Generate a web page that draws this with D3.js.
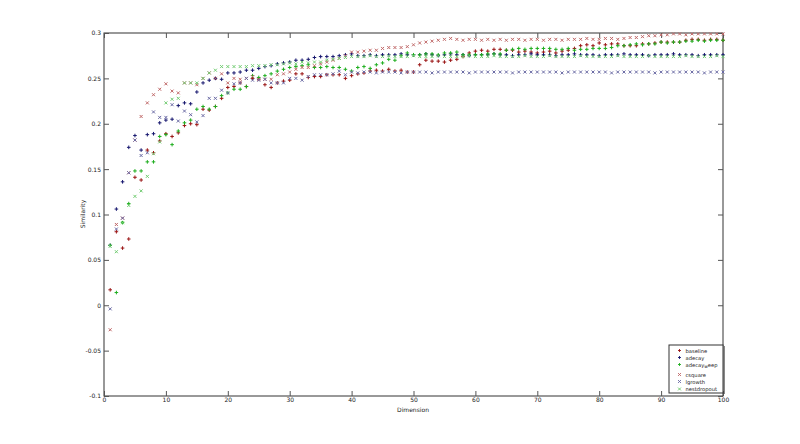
<!DOCTYPE html>
<html><head><meta charset="utf-8">
<script src="https://cdn.jsdelivr.net/npm/d3@7"></script>
<style>
html,body{margin:0;padding:0;background:#fff;}
svg{display:block;}
text{font-family:"DejaVu Sans",sans-serif;fill:#222;}
</style></head>
<body>
<svg id="chart" width="800" height="444"></svg>
<script>
const xTicks = [0,10,20,30,40,50,60,70,80,90,100];
const yTicks = [-0.1,-0.05,0,0.05,0.1,0.15,0.2,0.25,0.3];
const yTickLabels = ["-0.1","-0.05","0","0.05","0.1","0.15","0.2","0.25","0.3"];
const seriesNames = ["baseline","adecay","adecay_weep","csquare","lgrowth","nestdropout"];
const dims = d3.range(1, 101);

const baseline = [
 0.017,0.081,0.063,0.073,0.141,0.138,0.171,0.168,0.181,0.189,
 0.186,0.190,0.198,0.200,0.199,0.216,0.215,0.219,0.228,0.240,
 0.241,0.245,0.241,0.250,0.249,0.243,0.240,0.245,0.247,0.248,
 0.255,0.255,0.251,0.252,0.252,0.254,0.254,0.254,0.250,0.253,
 0.255,0.256,0.258,0.259,0.258,0.260,0.258,0.259,0.257,0.257,
 0.265,0.270,0.269,0.269,0.268,0.270,0.271,0.274,0.278,0.280,
 0.281,0.280,0.282,0.282,0.281,0.281,0.279,0.280,0.279,0.278,
 0.279,0.280,0.278,0.280,0.281,0.283,0.286,0.287,0.286,0.289,
 0.287,0.288,0.288,0.286,0.286,0.286,0.288,0.288,0.289,0.290,
 0.290,0.290,0.290,0.292,0.293,0.293,0.292,0.293,0.293,0.292];
const adecay = [
 0.066,0.106,0.136,0.174,0.187,0.171,0.188,0.189,0.201,0.204,
 0.205,0.220,0.223,0.222,0.235,0.245,0.248,0.250,0.249,0.256,
 0.256,0.257,0.259,0.259,0.261,0.263,0.264,0.266,0.267,0.268,
 0.270,0.270,0.271,0.273,0.274,0.274,0.274,0.275,0.276,0.277,
 0.275,0.275,0.276,0.275,0.276,0.276,0.276,0.277,0.276,0.276,
 0.276,0.277,0.276,0.275,0.276,0.277,0.276,0.276,0.275,0.276,
 0.276,0.276,0.277,0.276,0.276,0.275,0.276,0.276,0.277,0.276,
 0.276,0.276,0.275,0.276,0.276,0.277,0.276,0.276,0.276,0.275,
 0.276,0.276,0.276,0.277,0.276,0.276,0.276,0.275,0.276,0.276,
 0.276,0.277,0.276,0.276,0.276,0.275,0.276,0.276,0.276,0.276];
const adecayWeep = [
 0.066,0.014,0.091,0.112,0.148,0.148,0.158,0.158,0.186,0.188,
 0.177,0.192,0.201,0.204,0.216,0.219,0.216,0.219,0.231,0.234,
 0.238,0.238,0.241,0.253,0.251,0.253,0.255,0.258,0.260,0.262,
 0.263,0.264,0.265,0.262,0.262,0.263,0.262,0.262,0.260,0.258,
 0.262,0.263,0.261,0.265,0.267,0.271,0.270,0.275,0.278,0.276,
 0.276,0.277,0.277,0.276,0.278,0.278,0.279,0.276,0.276,0.276,
 0.276,0.277,0.277,0.277,0.281,0.282,0.283,0.282,0.283,0.283,
 0.283,0.283,0.282,0.282,0.283,0.281,0.282,0.282,0.283,0.283,
 0.283,0.284,0.286,0.286,0.287,0.288,0.287,0.288,0.288,0.290,
 0.289,0.290,0.290,0.291,0.291,0.292,0.291,0.292,0.292,0.292];
const csquare = [
 -0.027,0.089,0.096,0.146,0.182,0.208,0.223,0.232,0.238,0.244,
 0.236,0.234,0.245,0.245,0.243,0.250,0.256,0.250,0.255,0.245,
 0.250,0.249,0.250,0.252,0.249,0.249,0.249,0.254,0.255,0.257,
 0.260,0.262,0.262,0.264,0.266,0.268,0.270,0.272,0.275,0.279,
 0.279,0.280,0.281,0.281,0.283,0.284,0.284,0.284,0.285,0.287,
 0.289,0.290,0.291,0.292,0.293,0.294,0.293,0.292,0.293,0.293,
 0.292,0.293,0.292,0.293,0.292,0.293,0.293,0.292,0.293,0.293,
 0.292,0.293,0.293,0.292,0.293,0.293,0.293,0.294,0.293,0.293,
 0.294,0.294,0.293,0.294,0.295,0.295,0.296,0.297,0.297,0.298,
 0.298,0.299,0.299,0.298,0.299,0.299,0.299,0.299,0.299,0.299];
const lgrowth = [
 -0.004,0.084,0.096,0.146,0.182,0.165,0.168,0.213,0.207,0.207,
 0.221,0.203,0.214,0.210,0.202,0.209,0.228,0.228,0.237,0.234,
 0.244,0.245,0.250,0.248,0.248,0.249,0.245,0.245,0.245,0.250,
 0.250,0.248,0.252,0.254,0.254,0.254,0.255,0.258,0.254,0.257,
 0.256,0.257,0.257,0.256,0.257,0.257,0.257,0.256,0.257,0.257,
 0.257,0.257,0.256,0.257,0.257,0.257,0.257,0.257,0.256,0.257,
 0.257,0.257,0.257,0.257,0.257,0.256,0.257,0.257,0.257,0.257,
 0.257,0.257,0.257,0.256,0.257,0.257,0.257,0.257,0.257,0.257,
 0.257,0.256,0.257,0.257,0.257,0.257,0.257,0.257,0.256,0.257,
 0.257,0.257,0.257,0.257,0.257,0.257,0.256,0.257,0.257,0.257];
const nestdropout = [
 0.065,0.059,0.091,0.110,0.120,0.126,0.142,0.167,0.180,0.223,
 0.227,0.228,0.245,0.245,0.245,0.250,0.256,0.259,0.263,0.263,
 0.263,0.263,0.263,0.264,0.264,0.264,0.265,0.265,0.266,0.267,
 0.266,0.268,0.267,0.268,0.268,0.270,0.271,0.272,0.273,0.274,
 0.274,0.274,0.275,0.274,0.274,0.275,0.274,0.274,0.274,0.275,
 0.274,0.274,0.274,0.275,0.274,0.274,0.274,0.274,0.275,0.274,
 0.274,0.274,0.275,0.274,0.274,0.274,0.274,0.275,0.274,0.274,
 0.274,0.275,0.274,0.274,0.274,0.274,0.275,0.274,0.274,0.274,
 0.274,0.274,0.275,0.274,0.274,0.274,0.274,0.275,0.274,0.274,
 0.274,0.274,0.274,0.275,0.274,0.274,0.274,0.274,0.275,0.274];

const seriesValues = [baseline, adecay, adecayWeep, csquare, lgrowth, nestdropout];
const seriesColors = ["#9a1414","#16166e","#1fae1f","#c06868","#6a6aa4","#72cc72"];
const seriesMarkers = ["+","+","+","x","x","x"];

const svg = d3.select("#chart");
const x = d3.scaleLinear().domain([0,100]).range([104,723]);
const y = d3.scaleLinear().domain([-0.1,0.3]).range([396,33]);

// box
svg.append("rect").attr("x",104).attr("y",33).attr("width",619).attr("height",363)
  .attr("fill","none").attr("stroke","#333").attr("stroke-width",1);

const fmtY = d => yTickLabels[yTicks.indexOf(d)];
const gB = svg.append("g").attr("transform","translate(0,396)")
  .call(d3.axisBottom(x).tickValues(xTicks).tickSizeInner(-5).tickSizeOuter(0).tickPadding(2));
const gL = svg.append("g").attr("transform","translate(104,0)")
  .call(d3.axisLeft(y).tickValues(yTicks).tickFormat(fmtY).tickSizeInner(-5).tickSizeOuter(0).tickPadding(3));
const gT = svg.append("g").attr("transform","translate(0,33)")
  .call(d3.axisTop(x).tickValues(xTicks).tickFormat("").tickSizeInner(-5).tickSizeOuter(0));
const gR = svg.append("g").attr("transform","translate(723,0)")
  .call(d3.axisRight(y).tickValues(yTicks).tickFormat("").tickSizeInner(-5).tickSizeOuter(0));
[gB,gL,gT,gR].forEach(g=>{
  g.select(".domain").remove();
  g.selectAll("line").attr("stroke","#555");
  g.selectAll("text").attr("font-size","6px").attr("font-family","DejaVu Sans, sans-serif").attr("fill","#333");
});

svg.append("text").attr("x",413).attr("y",412).attr("text-anchor","middle")
  .attr("font-size","6px").text("Dimension");
svg.append("text").attr("transform","translate(85,214) rotate(-90)").attr("text-anchor","middle")
  .attr("font-size","6px").text("Similarity");

function markerPath(type, s){
  if(type==="+") return `M${-s},0H${s}M0,${-s}V${s}`;
  return `M${-s},${-s}L${s},${s}M${-s},${s}L${s},${-s}`;
}

seriesValues.forEach((vals,i)=>{
  svg.append("g").selectAll("path").data(vals).join("path")
    .attr("transform",(d,j)=>`translate(${x(dims[j])},${y(d)})`)
    .attr("d", markerPath(seriesMarkers[i], seriesMarkers[i]==="+"?1.8:1.5))
    .attr("stroke",seriesColors[i]).attr("stroke-width",1).attr("fill","none");
});

// legend
const lg = svg.append("g");
lg.append("rect").attr("x",669).attr("y",345).attr("width",54).attr("height",48)
  .attr("fill","#fff").attr("stroke","#333").attr("stroke-width",1);
lg.append("line").attr("x1",724.5).attr("y1",346).attr("x2",724.5).attr("y2",394).attr("stroke","#888");
const legY = [350.5,357.5,364.5,374.5,381.5,389];
seriesNames.forEach((n,i)=>{
  lg.append("path").attr("transform",`translate(679.5,${legY[i]})`)
    .attr("d", markerPath(seriesMarkers[i], 1.4))
    .attr("stroke",seriesColors[i]).attr("stroke-width",1).attr("fill","none");
  const t = lg.append("text").attr("x",685.5).attr("y",legY[i]+2)
    .attr("font-size","5.2px").attr("font-family","Liberation Sans, sans-serif");
  if(n==="adecay_weep"){
    t.append("tspan").text("adecay");
    t.append("tspan").attr("dy",1.5).attr("font-size","4.4px").text("w");
    t.append("tspan").attr("dy",-1.5).text("eep");
  } else t.text(n);
});
</script>
</body></html>
